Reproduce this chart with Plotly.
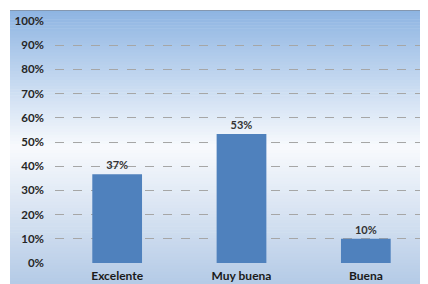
import plotly.graph_objects as go

categories = ["Excelente", "Muy buena", "Buena"]
values = [0.367, 0.533, 0.10]
labels = ["37%", "53%", "10%"]
tick_vals = [0, 0.1, 0.2, 0.3, 0.4, 0.5, 0.6, 0.7, 0.8, 0.9, 1.0]
tick_text = ["0%", "10%", "20%", "30%", "40%", "50%", "60%", "70%", "80%", "90%", "100%"]

# page body has an 8px margin; figure coordinates = page coordinates - 8
OFF = 8
W, H = 428 - OFF, 284 - OFF
L, R, T, B = 55 - OFF, 0, 21 - OFF, 21
pw, ph = W - L - R, H - T - B

def px_x(x):  # page px -> paper
    return (x - OFF - L) / pw

def px_y(y):
    return (H - B - (y - OFF)) / ph

stops = [(0.0, (141, 180, 226)), (0.5, (248, 250, 253)), (1.0, (180, 202, 230))]

def col(t):
    for (a, ca), (b, cb) in zip(stops[:-1], stops[1:]):
        if a <= t <= b:
            f = (t - a) / (b - a)
            c = [round(ca[i] + (cb[i] - ca[i]) * f) for i in range(3)]
            return "rgb(%d,%d,%d)" % tuple(c)
    return "rgb(255,255,255)"

shapes = []
y0, y1 = 10, 284
n = 90
for i in range(n):
    ya = y0 + (y1 - y0) * i / n
    yb = y0 + (y1 - y0) * (i + 1) / n + 0.6
    shapes.append(dict(type="rect", xref="paper", yref="paper", layer="below",
                       x0=px_x(10), x1=px_x(432), y0=px_y(min(yb, 286)), y1=px_y(ya),
                       line=dict(width=0), fillcolor=col((i + 0.5) / n)))
shapes.append(dict(type="line", xref="paper", yref="paper", layer="below",
                   x0=px_x(10), x1=px_x(432), y0=px_y(10.5), y1=px_y(10.5),
                   line=dict(color="#8497B0", width=1)))

fig = go.Figure(go.Bar(
    x=categories, y=values, text=labels, textposition="outside",
    marker=dict(color="#4F81BD", line=dict(width=0)), width=0.4,
    textfont=dict(family="Lato", size=11, color="#333333", weight="bold"),
    cliponaxis=False,
))

fig.update_layout(
    width=W, height=H,
    margin=dict(l=L, r=R, t=T, b=B, pad=0, autoexpand=False),
    paper_bgcolor="white", plot_bgcolor="rgba(0,0,0,0)",
    shapes=shapes, showlegend=False,
    font=dict(family="Lato", size=11, color="#262626", weight="bold"),
)
fig.update_xaxes(showgrid=False, showline=False, ticks="", tickfont=dict(size=12, color="#1a1a1a"),
                 ticklabelstandoff=4)
fig.update_yaxes(range=[0, 1], tickvals=tick_vals, ticktext=tick_text, showgrid=True,
                 gridcolor="#A6A6A6", griddash="dash", gridwidth=1, zeroline=False,
                 showline=False, ticks="", ticklabelstandoff=10,
                 tickfont=dict(size=11.5, color="#262626"))

fig.write_html("out.html")
